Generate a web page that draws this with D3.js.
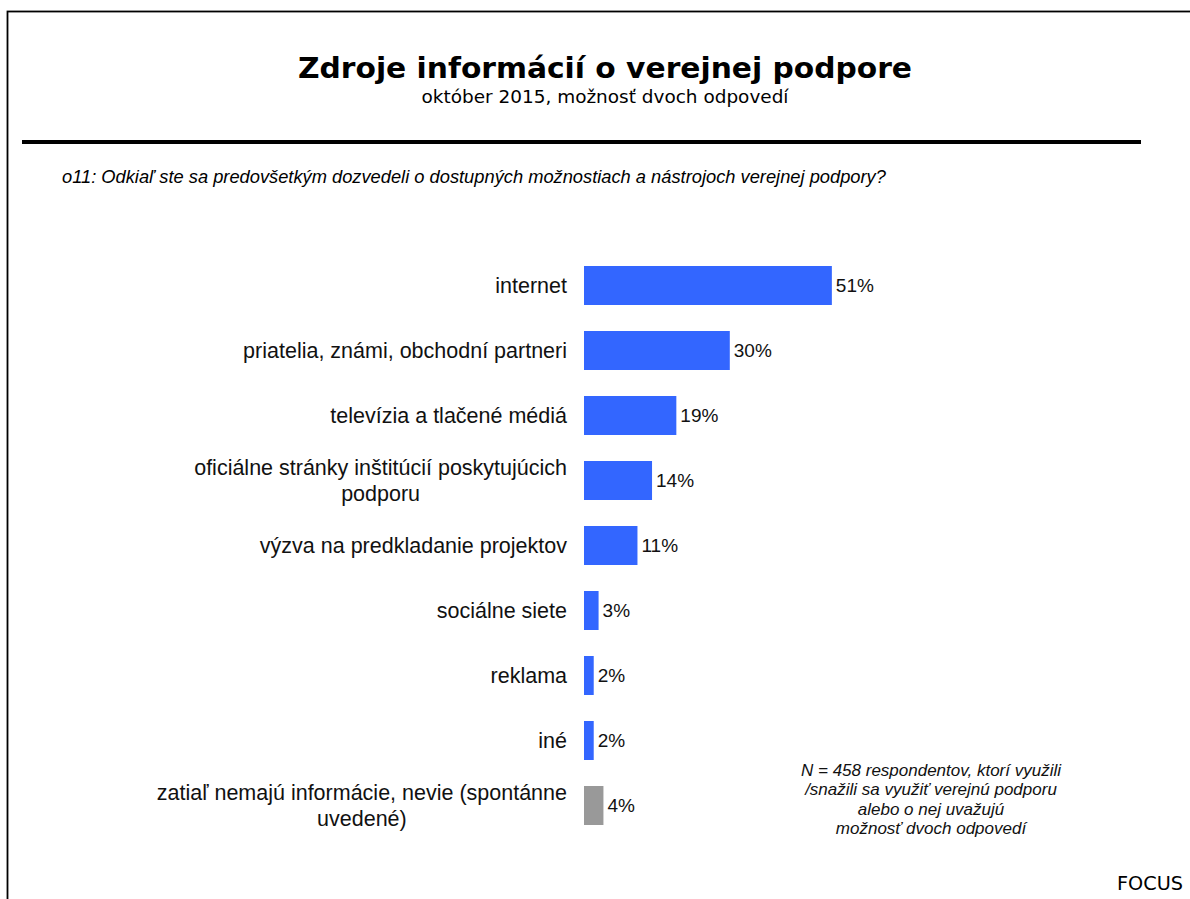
<!DOCTYPE html>
<html>
<head>
<meta charset="utf-8">
<script src="https://cdn.jsdelivr.net/npm/d3@7"></script>
<style>
    body { margin: 0; background: #fff; }
    svg { display: block; }
</style>
</head>
<body>
<div id="chart"></div>
<script>
const categories = [
    "internet",
    "priatelia, známi, obchodní partneri",
    "televízia a tlačené médiá",
    "oficiálne stránky inštitúcií poskytujúcich\npodporu",
    "výzva na predkladanie projektov",
    "sociálne siete",
    "reklama",
    "iné",
    "zatiaľ nemajú informácie, nevie (spontánne\nuvedené)"
];
const values = [51, 30, 19, 14, 11, 3, 2, 2, 4];
const isOther = [false, false, false, false, false, false, false, false, true];

const title = "Zdroje informácií o verejnej podpore";
const subtitle = "október 2015, možnosť dvoch odpovedí";
const question = "o11: Odkiaľ ste sa predovšetkým dozvedeli o dostupných možnostiach a nástrojoch verejnej podpory?";
const noteLines = [
    "N = 458 respondentov, ktorí využili",
    "/snažili sa využiť verejnú podporu",
    "alebo o nej uvažujú",
    "možnosť dvoch odpovedí"
];
const source = "FOCUS";

const width = 1190, height = 899;
const sans = "'Liberation Sans', Arial, sans-serif";
const verdana = "'DejaVu Sans', Verdana, sans-serif";

const svg = d3.select("#chart")
    .append("svg")
    .attr("width", width)
    .attr("height", height);

// frame, runs off the right and bottom edge
svg.append("rect")
    .attr("x", 7.5).attr("y", 11.5)
    .attr("width", 1300).attr("height", 1000)
    .attr("fill", "none")
    .attr("stroke", "#000")
    .attr("stroke-width", 1.8);

svg.append("text")
    .attr("x", 605).attr("y", 78)
    .attr("text-anchor", "middle")
    .attr("font-family", verdana)
    .attr("font-weight", "bold")
    .attr("font-size", 29)
    .attr("textLength", 614)
    .attr("lengthAdjust", "spacingAndGlyphs")
    .text(title);

svg.append("text")
    .attr("x", 605).attr("y", 103)
    .attr("text-anchor", "middle")
    .attr("font-family", verdana)
    .attr("font-size", 17)
    .attr("textLength", 367)
    .attr("lengthAdjust", "spacingAndGlyphs")
    .text(subtitle);

svg.append("line")
    .attr("x1", 22).attr("x2", 1141)
    .attr("y1", 142).attr("y2", 142)
    .attr("stroke", "#000")
    .attr("stroke-width", 4);

svg.append("text")
    .attr("x", 62).attr("y", 183)
    .attr("font-family", sans)
    .attr("font-style", "italic")
    .attr("font-size", 18.3)
    .text(question);

// scales
let x = d3.scaleLinear()
    .domain([0, 100])
    .range([584, 584 + 486]);

let y = d3.scaleBand()
    .domain(categories)
    .range([253, 838])
    .paddingInner(0.4)
    .paddingOuter(0.2);

let bars = svg.append("g");

bars.selectAll("rect")
    .data(categories)
    .enter()
    .append("rect")
    .attr("x", x(0))
    .attr("y", d => y(d))
    .attr("width", (d, i) => x(values[i]) - x(0))
    .attr("height", y.bandwidth())
    .attr("fill", (d, i) => isOther[i] ? "#999999" : "#3366FF");

bars.selectAll("text.value")
    .data(categories)
    .enter()
    .append("text")
    .attr("class", "value")
    .attr("x", (d, i) => x(values[i]) + 4)
    .attr("y", d => y(d) + y.bandwidth() / 2)
    .attr("dy", "0.35em")
    .attr("font-family", sans)
    .attr("font-size", 19)
    .attr("fill", "#111")
    .text((d, i) => values[i] + "%");

// category labels, multi-line ones are centred on the longest line
let labelRight = 567;
let lineHeight = 25.5;
categories.forEach(cat => {
    let lines = cat.split("\n");
    let cy = y(cat) + y.bandwidth() / 2;
    let g = svg.append("g");
    let texts = lines.map((line, j) => g.append("text")
        .attr("y", cy + (j - (lines.length - 1) / 2) * lineHeight)
        .attr("dy", "0.35em")
        .attr("font-family", sans)
        .attr("font-size", 21.5)
        .attr("fill", "#111")
        .attr("text-anchor", "middle")
        .text(line));
    let maxW = d3.max(texts, t => t.node().getComputedTextLength());
    texts.forEach(t => t.attr("x", labelRight - maxW / 2));
});

svg.append("g")
    .selectAll("text")
    .data(noteLines)
    .enter()
    .append("text")
    .attr("x", 931)
    .attr("y", (d, i) => 776 + i * 19.4)
    .attr("text-anchor", "middle")
    .attr("font-family", sans)
    .attr("font-style", "italic")
    .attr("font-size", 17)
    .attr("fill", "#111")
    .text(d => d);

svg.append("text")
    .attr("x", 1183).attr("y", 890)
    .attr("text-anchor", "end")
    .attr("font-family", verdana)
    .attr("font-size", 19)
    .attr("textLength", 66)
    .attr("lengthAdjust", "spacingAndGlyphs")
    .text(source);
</script>
</body>
</html>
